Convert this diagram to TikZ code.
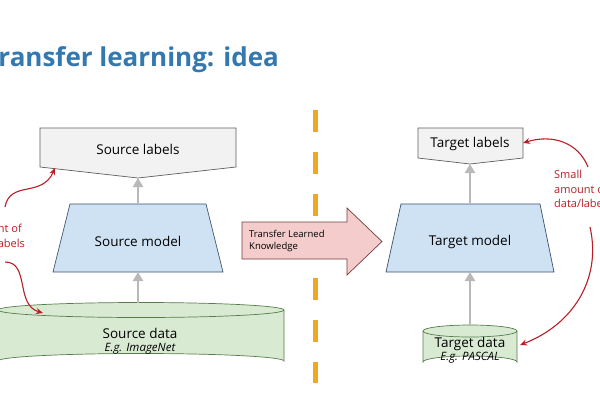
\documentclass[tikz,border=0pt]{standalone}
\usepackage{fontspec}
\setmainfont{Open Sans}
\usetikzlibrary{arrows.meta}
\definecolor{titleblue}{RGB}{52,120,176}
\definecolor{labfill}{RGB}{242,242,242}
\definecolor{labdraw}{RGB}{95,95,95}
\definecolor{modfill}{RGB}{207,226,243}
\definecolor{moddraw}{RGB}{60,80,110}
\definecolor{datfill}{RGB}{217,234,211}
\definecolor{datdraw}{RGB}{85,125,75}
\definecolor{arrfill}{RGB}{244,204,204}
\definecolor{arrdraw}{RGB}{120,60,60}
\definecolor{dashorange}{RGB}{240,168,35}
\definecolor{annred}{RGB}{185,30,40}
\definecolor{flowgray}{RGB}{185,185,185}
\tikzset{
  labelshape/.style={fill=labfill,draw=labdraw,line width=0.7pt,line join=miter},
  modelshape/.style={fill=modfill,draw=moddraw,line width=0.7pt},
  datashape/.style={fill=datfill,draw=datdraw,line width=0.7pt},
  boxtext/.style={font=\fontsize{13.5}{16}\selectfont,inner sep=0pt},
  subtext/.style={font=\fontsize{11.5}{13}\selectfont\itshape,inner sep=0pt},
  flow/.style={draw=flowgray,line width=2.5pt,-{Triangle[length=9pt,width=10pt]}},
  annot/.style={draw=annred,line width=1.1pt,-{Stealth[length=7pt,width=6pt]}},
  anntext/.style={text=annred,font=\fontsize{11}{14.5}\selectfont,align=left,inner sep=0pt}
}
\begin{document}
\begin{tikzpicture}[x=1pt,y=-1pt]
\useasboundingbox (0,0) rectangle (600,400);
\fill[white] (0,0) rectangle (600,400);

% title
\node[anchor=base west,font=\fontsize{26}{30}\selectfont\bfseries,text=titleblue,inner sep=0pt] (title) at (-15.5,66) {Transfer learning: idea};

% dashed divider
\draw[dashorange,line width=5pt,dash pattern=on 22pt off 20pt] (315,110) -- (315,383);

% ---- source side ----
\draw[labelshape] (40,128) -- (236,128) -- (236,167) -- (138,178) -- (40,167) -- cycle;
\node[boxtext] (slab) at (138,149) {Source labels};
\coordinate (slabbot) at (138,178);

\draw[modelshape] (70,204) -- (206,204) -- (223,272) -- (53,272) -- cycle;
\node[boxtext] (smod) at (138,241) {Source model};
\coordinate (smodtop) at (138,204);
\coordinate (smodbot) at (138,272);

\fill[datashape,draw=none] (-2,310) -- (-2,361) arc[start angle=180,end angle=360,x radius=143,y radius=7.5] -- (284,310) -- cycle;
\draw[datashape,fill=none] (-2,310) -- (-2,361) arc[start angle=180,end angle=360,x radius=143,y radius=7.5] -- (284,310);
\draw[datashape] (141,310) ellipse[x radius=143,y radius=7.5];
\node[boxtext] (sdat) at (140,333) {Source data};
\node[subtext] (sdatsub) at (140,349) {E.g. ImageNet};
\coordinate (sdattop) at (138,303);

\draw[flow] (smodtop) -- (slabbot);
\draw[flow] (sdattop) -- (smodbot);

% left annotation
\node[anchor=north west,anntext] (ltext) at (-32,224) {amount of\\data/labels};
\coordinate (lstart1) at (5,207);
\coordinate (lend1) at (55,168);
\coordinate (lstart2) at (5,262);
\coordinate (lend2) at (43,313);
\draw[annot] (lstart1) .. controls (10,180) and (42,198) .. (lend1);
\draw[annot] (lstart2) .. controls (30,262) and (15,305) .. (lend2);

% ---- transfer arrow ----
\draw[fill=arrfill,draw=arrdraw,line width=0.7pt] (242,222) -- (347,222) -- (347,208) -- (382,241.5) -- (347,275) -- (347,259) -- (242,259) -- cycle;
\node[anchor=west,font=\fontsize{9.5}{12.5}\selectfont,align=left,inner sep=0pt] (ttext) at (249,241) {Transfer Learned\\Knowledge};

% ---- target side ----
\draw[labelshape] (418,128) -- (523,128) -- (523,158) -- (470,164) -- (418,158) -- cycle;
\node[boxtext] (tlab) at (470,144) {Target labels};
\coordinate (tlabbot) at (470,164);
\coordinate (tlabright) at (523,143);

\draw[modelshape] (401,204) -- (540,204) -- (554,272) -- (386,272) -- cycle;
\node[boxtext] (tmod) at (470,242) {Target model};
\coordinate (tmodtop) at (470,204);
\coordinate (tmodbot) at (470,272);

\fill[datashape,draw=none] (423,331) -- (423,362) arc[start angle=180,end angle=360,x radius=47,y radius=6] -- (517,331) -- cycle;
\draw[datashape,fill=none] (423,331) -- (423,362) arc[start angle=180,end angle=360,x radius=47,y radius=6] -- (517,331);
\draw[datashape] (470,331) ellipse[x radius=47,y radius=6];
\node[boxtext] (tdat) at (470,344) {Target data};
\node[subtext] (tdatsub) at (470,358) {E.g. PASCAL};
\coordinate (tdattop) at (470,325);
\coordinate (tdatright) at (520,345);

\draw[flow] (tmodtop) -- (tlabbot);
\draw[flow] (tdattop) -- (tmodbot);

% right annotation
\node[anchor=north west,anntext] (rtext) at (554,170) {Small\\amount of\\data/labels};
\coordinate (rstart1) at (588,167);
\coordinate (rstart2) at (590,227);
\draw[annot] (rstart1) .. controls (578,142) and (552,134) .. (tlabright);
\draw[annot] (rstart2) .. controls (602,280) and (572,325) .. (tdatright);
\end{tikzpicture}
\end{document}
